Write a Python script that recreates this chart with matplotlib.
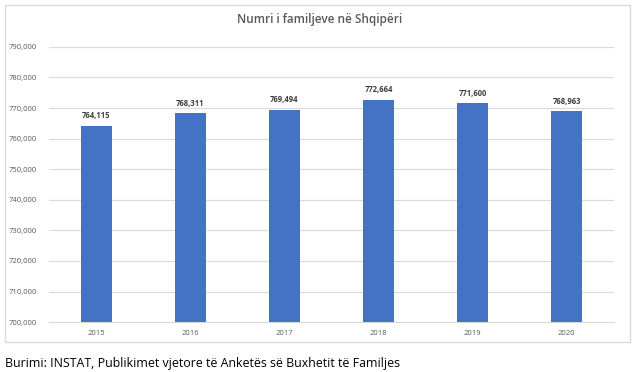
import matplotlib.pyplot as plt
from matplotlib.patches import Rectangle
from matplotlib.ticker import FuncFormatter, MultipleLocator

# === DATA ===
years = ["2015", "2016", "2017", "2018", "2019", "2020"]
families = [764115, 768311, 769494, 772664, 771600, 768963]

title = "Numri i familjeve në Shqipëri"
source = "Burimi: INSTAT, Publikimet vjetore të Anketës së Buxhetit të Familjes"

plt.rcParams["font.family"] = ["Open Sans", "DejaVu Sans"]

fig = plt.figure(figsize=(6.4, 3.72), dpi=100)

# chart frame
fig.patches.append(Rectangle((5 / 640, 1 - 342 / 372), 625 / 640, 337 / 372,
                             transform=fig.transFigure, fill=False,
                             edgecolor="#d9d9d9", linewidth=1.0))

ax = fig.add_axes([0.077, 0.134, 0.882, 0.74])
x = range(len(years))
bars = ax.bar(x, families, width=0.33, color="#4472C4", zorder=3)

ax.set_ylim(700000, 790000)
ax.set_xlim(-0.5, len(years) - 0.5)
ax.yaxis.set_major_locator(MultipleLocator(10000))
ax.yaxis.set_major_formatter(FuncFormatter(lambda v, p: f"{int(v):,}"))
ax.set_xticks(list(x))
ax.set_xticklabels(years)
ax.tick_params(axis="both", length=0, labelsize=5.5, labelcolor="#595959", pad=6)
ax.tick_params(axis="y", pad=9)
ax.grid(axis="y", color="#d9d9d9", linewidth=0.8, zorder=0)
for s in ax.spines.values():
    s.set_visible(False)
ax.spines["bottom"].set_visible(True)
ax.spines["bottom"].set_color("#d9d9d9")

for b, v in zip(bars, families):
    ax.annotate(f"{v:,}", (b.get_x() + b.get_width() / 2, v),
                xytext=(0, 4), textcoords="offset points",
                ha="center", va="bottom", fontsize=5.5,
                fontweight="bold", color="#404040")

fig.text(0.5, 1 - 20 / 372, title, ha="center", va="center",
         fontsize=8.5, fontweight="semibold", color="#595959")
fig.text(5 / 640, 1 - 363 / 372, source, ha="left", va="center",
         fontsize=8.9, color="#000000")

fig.savefig("out.png", dpi=100)
